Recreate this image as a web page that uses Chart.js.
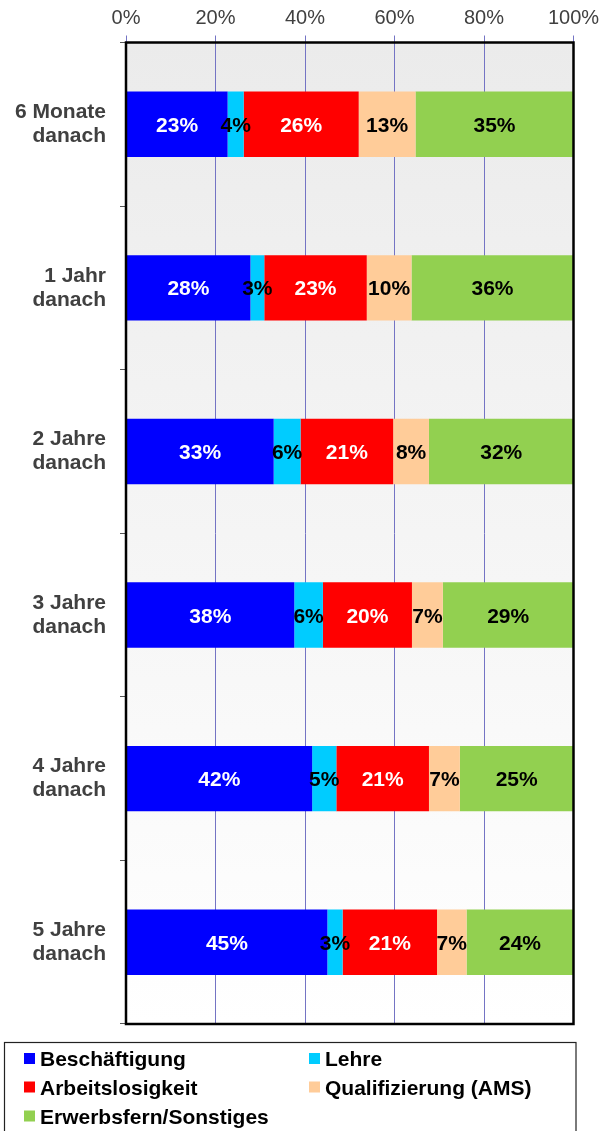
<!DOCTYPE html>
<html>
<head>
<meta charset="utf-8">
<script src="https://cdn.jsdelivr.net/npm/chart.js@4/dist/chart.umd.min.js"></script>
<style>
  html, body { margin: 0; padding: 0; background: #fff; }
  #wrap { position: relative; width: 601px; height: 1131px; }
</style>
</head>
<body>
<div id="wrap"><canvas id="chart"></canvas></div>
<script>
// Data (shares in %)
const categories = [
  ['6 Monate', 'danach'],
  ['1 Jahr', 'danach'],
  ['2 Jahre', 'danach'],
  ['3 Jahre', 'danach'],
  ['4 Jahre', 'danach'],
  ['5 Jahre', 'danach']
];
const seriesNames = ['Beschäftigung', 'Lehre', 'Arbeitslosigkeit', 'Qualifizierung (AMS)', 'Erwerbsfern/Sonstiges'];
const beschaeftigung = [22.7, 27.8, 33.0, 37.6, 41.6, 45.0];
const lehre          = [3.6, 3.1, 6.0, 6.4, 5.4, 3.4];
const arbeitslos     = [25.7, 22.9, 20.7, 19.9, 20.7, 21.1];
const qualifizierung = [12.7, 10.0, 8.0, 6.9, 6.9, 6.6];
const erwerbsfern    = [35.3, 36.2, 32.3, 29.2, 25.4, 23.9];
const xTicks = [0, 20, 40, 60, 80, 100];

const colors = ['#0000ff', '#00ccff', '#ff0000', '#ffcc99', '#92d050'];
const labelColors = ['#ffffff', '#000000', '#ffffff', '#000000', '#000000'];
const FONT = '"Liberation Sans", Arial, sans-serif';

const seriesValues = [beschaeftigung, lehre, arbeitslos, qualifizierung, erwerbsfern];

// gradient background + plot border
const plotBox = {
  id: 'plotBox',
  beforeDraw(chart) {
    const { ctx, chartArea: a } = chart;
    const g = ctx.createLinearGradient(0, a.top, 0, a.bottom);
    g.addColorStop(0, '#ebebeb');
    g.addColorStop(1, '#ffffff');
    ctx.save();
    ctx.fillStyle = g;
    ctx.fillRect(a.left, a.top, a.right - a.left, a.bottom - a.top);
    ctx.restore();
  },
  afterDatasetsDraw(chart) {
    const { ctx, chartArea: a } = chart;
    ctx.save();
    ctx.strokeStyle = '#000';
    ctx.lineWidth = 2.5;
    ctx.strokeRect(a.left, a.top, a.right - a.left, a.bottom - a.top);
    ctx.restore();
  }
};

// value labels in the segments
const barLabels = {
  id: 'barLabels',
  afterDatasetsDraw(chart) {
    const ctx = chart.ctx;
    ctx.save();
    ctx.font = 'bold 21px ' + FONT;
    ctx.textAlign = 'center';
    ctx.textBaseline = 'alphabetic';
    chart.data.datasets.forEach((ds, i) => {
      const meta = chart.getDatasetMeta(i);
      meta.data.forEach((bar, j) => {
        const cx = (bar.x + bar.base) / 2;
        ctx.fillStyle = labelColors[i];
        ctx.fillText(Math.round(ds.data[j]) + '%', cx, bar.y + 7.5);
      });
    });
    ctx.restore();
  }
};

// boxed legend at the bottom
const boxLegend = {
  id: 'boxLegend',
  afterDraw(chart) {
    const ctx = chart.ctx;
    ctx.save();
    ctx.strokeStyle = '#222';
    ctx.lineWidth = 1.2;
    ctx.strokeRect(4.5, 1042.5, 571.5, 120);
    const cols = [24, 309];
    const rows = [1058.5, 1087, 1116];
    ctx.font = 'bold 21px ' + FONT;
    ctx.textBaseline = 'alphabetic';
    ctx.textAlign = 'left';
    chart.data.datasets.forEach((ds, i) => {
      const x = cols[i % 2];
      const y = rows[Math.floor(i / 2)];
      ctx.fillStyle = ds.backgroundColor;
      ctx.fillRect(x, y - 5.5, 11, 11);
      ctx.fillStyle = '#000';
      ctx.fillText(ds.label, x + 16, y + 7.5);
    });
    ctx.restore();
  }
};

const datasets = seriesNames.map((name, i) => ({
  label: name,
  data: seriesValues[i],
  backgroundColor: colors[i],
  borderWidth: 0,
  categoryPercentage: 1,
  barPercentage: 0.4
}));

new Chart(document.getElementById('chart'), {
  type: 'bar',
  data: { labels: categories, datasets: datasets },
  options: {
    indexAxis: 'y',
    responsive: true,
    maintainAspectRatio: false,
    animation: false,
    layout: { padding: { top: 0, left: 0, right: 27.5, bottom: 107 } },
    plugins: {
      legend: { display: false },
      tooltip: { enabled: false }
    },
    scales: {
      x: {
        position: 'top',
        stacked: true,
        min: 0,
        max: 100,
        afterBuildTicks: (s) => { s.ticks = xTicks.map(v => ({ value: v })); },
        afterFit: (s) => {
          s.height = 42.5;
          s.paddingLeft = 0;
          s.paddingRight = 0;
        },
        ticks: {
          color: '#404040',
          font: { family: FONT, size: 20 },
          padding: 5,
          callback: (v) => v + '%'
        },
        grid: {
          color: '#7474c4',
          lineWidth: 1,
          drawTicks: true,
          tickLength: 7
        },
        border: { display: false }
      },
      y: {
        stacked: true,
        afterFit: (s) => {
          s.width = 126;
          s.paddingTop = 0;
          s.paddingBottom = 0;
        },
        ticks: {
          color: '#404040',
          font: { family: FONT, size: 21, weight: 'bold', lineHeight: 1.15 },
          padding: 14
        },
        grid: {
          drawOnChartArea: false,
          drawTicks: true,
          tickLength: 6,
          tickColor: '#555',
          offset: true
        },
        border: { display: false }
      }
    }
  },
  plugins: [plotBox, barLabels, boxLegend]
});
</script>
</body>
</html>
